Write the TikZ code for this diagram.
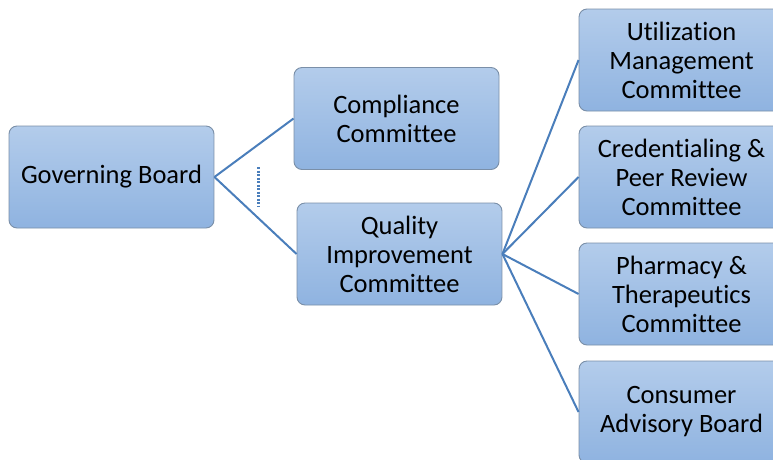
\documentclass[tikz,border=0pt]{standalone}
\usepackage{fontspec}
\setmainfont{Carlito}[Ligatures=NoCommon]
\begin{document}
\begin{tikzpicture}[x=1pt,y=-1pt,
  box/.style={draw=boxline, line width=0.9pt, rounded corners=8pt,
    top color=boxtop, bottom color=boxbot, minimum width=205pt, minimum height=102pt,
    align=center, font=\fontsize{26.5}{29}\selectfont, inner sep=0pt},
  conn/.style={draw=connblue, line width=2pt}]
\definecolor{boxtop}{HTML}{B3CCEB}
\definecolor{boxbot}{HTML}{8FB3E0}
\definecolor{boxline}{HTML}{7A8FA8}
\definecolor{connblue}{HTML}{4A7EBB}
\useasboundingbox (0,0) rectangle (773,459);
\node[box] (gb) at (111.5,177) {Governing Board};
\node[box] (cc) at (396.5,118.5) {Compliance\\Committee};
\node[box] (qi) at (399.5,254) {Quality\\Improvement\\Committee};
\node[box] (um) at (681.5,60) {Utilization\\Management\\Committee};
\node[box] (cr) at (681.5,177) {Credentialing \&\\Peer Review\\Committee};
\node[box] (ph) at (681.5,294) {Pharmacy \&\\Therapeutics\\Committee};
\node[box] (ca) at (681.5,412) {Consumer\\Advisory Board};
\coordinate (d1) at (258,167);
\coordinate (d2) at (258,206);
\draw[connblue, line width=3pt, dash pattern=on 2pt off 1.5pt] (d1) -- (d2);
\draw[conn] (gb.east) -- (cc.west);
\draw[conn] (gb.east) -- (qi.west);
\draw[conn] (qi.east) -- (um.west);
\draw[conn] (qi.east) -- (cr.west);
\draw[conn] (qi.east) -- (ph.west);
\draw[conn] (qi.east) -- (ca.west);
\end{tikzpicture}
\end{document}
